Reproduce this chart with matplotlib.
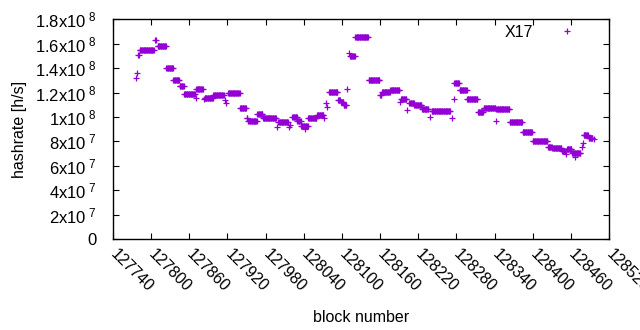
import numpy as np
import matplotlib.pyplot as plt
from matplotlib.ticker import FixedLocator, FixedFormatter

plt.rcParams['font.family'] = ['Liberation Sans', 'DejaVu Sans']
plt.rcParams['mathtext.fontset'] = 'custom'
plt.rcParams['mathtext.rm'] = 'Liberation Sans'
plt.rcParams['mathtext.it'] = 'Liberation Sans:italic'
plt.rcParams['mathtext.bf'] = 'Liberation Sans:bold'

# runs of blocks sharing the same hashrate (first block, last block, h/s)
run_start = [127780, 127782, 127806, 127810, 127824, 127835, 127845, 127852,
             127871, 127884, 127898, 127921, 127940, 127950, 127953, 127967,
             127976, 128000, 128022, 128030, 128036, 128047, 128061, 128080,
             128094, 128098, 128103, 128113, 128121, 128142, 128160, 128163,
             128176, 128193, 128206, 128214, 128226, 128241, 128277, 128285,
             128297, 128314, 128323, 128343, 128364, 128384, 128400, 128424,
             128431, 128446, 128454, 128462, 128480, 128488]
run_end = [127781, 127804, 127807, 127823, 127834, 127844, 127851, 127869,
           127881, 127897, 127914, 127939, 127949, 127951, 127966, 127975,
           127996, 128015, 128029, 128035, 128046, 128060, 128071, 128093,
           128097, 128102, 128107, 128120, 128141, 128159, 128162, 128175,
           128190, 128201, 128213, 128225, 128236, 128270, 128284, 128296,
           128313, 128322, 128341, 128363, 128383, 128399, 128423, 128430,
           128445, 128452, 128461, 128475, 128487, 128494]
run_rate = [1.505e8, 1.546e8, 1.628e8, 1.579e8, 1.397e8, 1.301e8, 1.257e8, 1.192e8,
            1.225e8, 1.156e8, 1.176e8, 1.200e8, 1.077e8, 0.988e8, 0.970e8, 1.028e8,
            0.988e8, 0.955e8, 0.996e8, 0.968e8, 0.927e8, 0.988e8, 1.015e8, 1.205e8,
            1.140e8, 1.120e8, 1.100e8, 1.497e8, 1.655e8, 1.301e8, 1.178e8, 1.205e8,
            1.219e8, 1.143e8, 1.115e8, 1.096e8, 1.069e8, 1.050e8, 1.282e8, 1.219e8,
            1.143e8, 1.037e8, 1.077e8, 1.061e8, 0.955e8, 0.873e8, 0.800e8, 0.755e8,
            0.742e8, 0.722e8, 0.734e8, 0.701e8, 0.856e8, 0.826e8]

# isolated blocks
single_block = [127776, 127778, 127870, 127883, 127916, 127918, 127998, 128017,
                128018, 128042, 128072, 128075, 128077, 128108, 128111, 128191,
                128203, 128239, 128273, 128276, 128342, 128453, 128466, 128477,
                128479, 128496]
single_rate = [1.315e8, 1.360e8, 1.156e8, 1.151e8, 1.137e8, 1.115e8, 0.920e8, 0.914e8,
               0.935e8, 0.905e8, 0.988e8, 1.115e8, 1.082e8, 1.225e8, 1.524e8, 1.124e8,
               1.055e8, 0.996e8, 0.988e8, 1.151e8, 0.970e8, 0.695e8, 0.673e8, 0.755e8,
               0.783e8, 0.816e8]

x_ticks = list(range(127740, 128521, 60))
y_ticks = [0, 2e7, 4e7, 6e7, 8e7, 1e8, 1.2e8, 1.4e8, 1.6e8, 1.8e8]
y_labels = ['0', r'2x10$^{\ 7}$', r'4x10$^{\ 7}$', r'6x10$^{\ 7}$', r'8x10$^{\ 7}$',
            r'1x10$^{\ 8}$', r'1.2x10$^{\ 8}$', r'1.4x10$^{\ 8}$', r'1.6x10$^{\ 8}$',
            r'1.8x10$^{\ 8}$']

blocks = np.concatenate([np.arange(s, e + 1) for s, e in zip(run_start, run_end)] + [single_block])
rates = np.concatenate([np.full(e - s + 1, r) for s, e, r in zip(run_start, run_end, run_rate)] + [single_rate])

fig = plt.figure(figsize=(6.4, 3.3), dpi=100)
ax = fig.add_axes([113 / 640, 1 - 239 / 330, 496 / 640, 219.7 / 330])
ax.plot(blocks, rates, linestyle='none', marker='+', ms=5, mew=0.9,
        color='#9400d3', label='X17')

ax.set_xlim(127740, 128520)
ax.set_ylim(0, 1.8e8)
ax.xaxis.set_major_locator(FixedLocator(x_ticks))
ax.yaxis.set_major_locator(FixedLocator(y_ticks))
ax.yaxis.set_major_formatter(FixedFormatter(y_labels))
ax.tick_params(direction='in', length=4, width=0.8, top=True, right=True,
               labelsize=11.5)
ax.tick_params(axis='y', pad=12, labelsize=12)
ax.tick_params(axis='x', pad=9)
for lab in ax.get_xticklabels():
    lab.set_rotation(-45)
    lab.set_ha('left')
    lab.set_va('center')
    lab.set_rotation_mode('anchor')
for sp in ax.spines.values():
    sp.set_linewidth(1.0)

ax.set_xlabel('block number', fontsize=11.5, labelpad=11)
ax.set_ylabel('hashrate [h/s]', fontsize=11.5, labelpad=6)

ax.legend(loc='upper right', bbox_to_anchor=(0.947, 0.974), frameon=False,
          markerfirst=False, numpoints=1, handlelength=2, handletextpad=1.1,
          borderaxespad=0, borderpad=0, fontsize=11.5)

fig.savefig('out.png', dpi=100)
